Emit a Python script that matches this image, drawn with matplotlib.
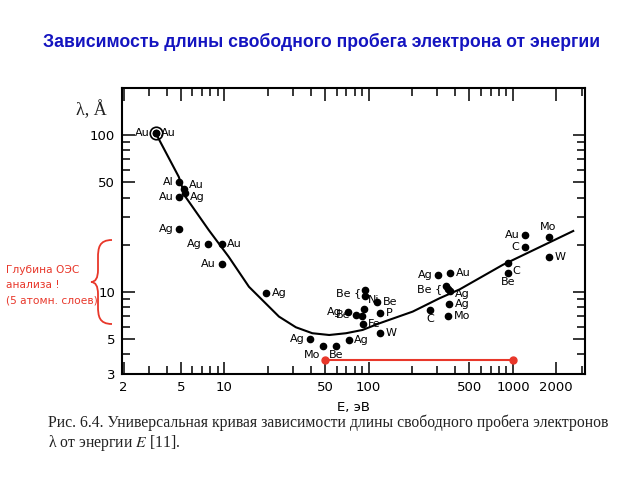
import matplotlib
matplotlib.use("Agg")
import matplotlib.pyplot as plt
from matplotlib.path import Path
from matplotlib.patches import PathPatch
from matplotlib.ticker import FixedLocator, NullFormatter, FixedFormatter

plt.rcParams['font.family'] = ['DejaVu Sans']
plt.rcParams['mathtext.fontset'] = 'stix'

# ---- data ----
title = "Зависимость длины свободного пробега электрона от энергии"
caption1 = "Рис. 6.4. Универсальная кривая зависимости длины свободного пробега электронов"
caption2 = "λ от энергии $E$ [11]."
xlabel = "E, эВ"
ylabel = "λ, Å"
note = "Глубина ОЭС\nанализа !\n(5 атомн. слоев)"

x_ticks = [2, 5, 10, 50, 100, 500, 1000, 2000]
x_ticklabels = ["2", "5", "10", "50", "100", "500", "1000", "2000"]
y_ticks = [3, 5, 10, 50, 100]
y_ticklabels = ["3", "5", "10", "50", "100"]

# universal curve
curve_E = [3.34, 4.83, 5.37, 7.8, 10.7, 14.8, 23.9, 31.3, 40.7, 53.3, 69.7, 90.8,
           119, 202, 310, 428, 851, 2620]
curve_L = [103, 54.2, 40.5, 24.8, 16.8, 10.8, 6.97, 5.96, 5.46, 5.32, 5.46, 5.73,
           6.32, 7.50, 9.12, 10.4, 14.9, 24.5]

# experimental points
pt_E = [3.34, 3.34, 4.83, 5.23, 5.31, 4.83, 4.83, 7.64, 9.55, 9.55, 19.4,
        39.3, 47.9, 59.3, 72.6, 71.5, 81.6, 93, 90, 95, 95, 115, 120, 91, 120,
        267, 302, 368, 345, 355, 365, 360, 354, 1210, 1210, 931, 931, 1766, 1786]
pt_L = [103, 103, 50.4, 45.3, 42.7, 40.1, 25.1, 20.1, 20.1, 15.1, 9.86,
        5.0, 4.53, 4.53, 4.94, 7.43, 7.13, 7.8, 7.0, 10.3, 9.5, 8.7, 7.3, 6.25, 5.5,
        7.67, 12.9, 13.3, 10.9, 10.5, 10.2, 8.37, 7.06, 23.1, 19.5, 15.2, 13.2, 22.3, 16.8]
pt_label = ["Au", "Au", "Al", "Au", "Ag", "Au", "Ag", "Ag", "Au", "Au", "Ag",
            "Ag", "Mo", "Be", "Ag", "Ag", "Be", "Ni", "", "", "", "Be", "P", "Fe", "W",
            "C", "Ag", "Au", "", "", "Ag", "Ag", "Mo", "Au", "C", "C", "Be", "Mo", "W"]
# label placement (styling)
pt_side = ["l", "r", "l", "ru2", "rd2", "l", "l", "l", "r", "l", "r",
           "l", "bl", "b", "r", "l", "l", "ru", "", "", "", "r", "r", "r", "r",
           "b", "l", "r", "", "", "rd3", "r", "r", "l", "l", "rd", "b", "t", "r"]

circled_E = [3.34]
circled_L = [103]

bracket_E = [95, 345]
bracket_L = [9.9, 10.5]
bracket_text = ["Be", "Be"]

red_E = [50, 1000]
red_L = [3.7, 3.7]

# ---- figure ----
fig = plt.figure(figsize=(6.4, 4.8), dpi=100)
ax = fig.add_axes([0.1906, 0.2208, 0.7234, 0.5959])
ax.set_xscale('log')
ax.set_yscale('log')
ax.set_xlim(1.95, 3160)
ax.set_ylim(3, 200)

ax.plot(curve_E, curve_L, color='black', lw=1.5, zorder=2)
ax.plot(pt_E, pt_L, 'o', color='black', ms=4.5, zorder=3)
ax.plot(circled_E, circled_L, 'o', mfc='none', mec='black', ms=9, mew=1.2, zorder=3)
ax.plot(red_E, red_L, '-', color='#e8372a', lw=1.5, zorder=3)
ax.plot(red_E, red_L, 'o', color='#e8372a', ms=5, zorder=4)

offs = {"l": (-4, 0, 'right', 'center'), "r": (4, 0, 'left', 'center'),
        "b": (0, -3, 'center', 'top'), "t": (0, 4, 'center', 'bottom'),
        "bl": (-2, -3, 'right', 'top'), "ru": (3, 3, 'left', 'bottom'),
        "rd": (3, -2, 'left', 'top'),
        "ru2": (4, 3, 'left', 'center'), "rd2": (4, -3, 'left', 'center'),
        "rd3": (4, -2.5, 'left', 'center')}
for e, l, t, s in zip(pt_E, pt_L, pt_label, pt_side):
    if not t:
        continue
    dx, dy, ha, va = offs[s]
    ax.annotate(t, (e, l), xytext=(dx, dy), textcoords='offset points',
                ha=ha, va=va, fontsize=8, color='black', zorder=5)

for e, l, t in zip(bracket_E, bracket_L, bracket_text):
    ax.annotate(t + " {", (e, l), xytext=(-3, 0), textcoords='offset points',
                ha='right', va='center', fontsize=8, color='black')

ax.xaxis.set_major_locator(FixedLocator(x_ticks))
ax.xaxis.set_major_formatter(FixedFormatter(x_ticklabels))
x_minor = [v * m for v in [1, 10, 100, 1000] for m in range(2, 10)]
ax.xaxis.set_minor_locator(FixedLocator(x_minor))
ax.xaxis.set_minor_formatter(NullFormatter())
ax.yaxis.set_major_locator(FixedLocator(y_ticks))
ax.yaxis.set_major_formatter(FixedFormatter(y_ticklabels))
y_minor = [v * m for v in [1, 10, 100] for m in range(2, 10)]
ax.yaxis.set_minor_locator(FixedLocator(y_minor))
ax.yaxis.set_minor_formatter(NullFormatter())

ax.tick_params(which='both', direction='in', top=True, right=True, width=1.1)
ax.tick_params(which='major', length=9, labelsize=9.5, pad=5)
ax.tick_params(which='minor', length=6)
for sp in ax.spines.values():
    sp.set_linewidth(1.5)

ax.set_xlabel(xlabel, fontsize=9.5, labelpad=5)

fig.text(0.503, 0.912, title, ha='center', va='center', fontsize=12.7,
         fontweight='bold', color='#1414c0', family=['Liberation Sans', 'DejaVu Sans'])
fig.text(0.142, 0.771, ylabel, ha='center', va='center', fontsize=13,
         family=['Liberation Serif', 'DejaVu Serif'], color='#222222')
fig.text(0.075, 0.119, caption1, ha='left', va='center', fontsize=11.3,
         family=['Liberation Serif', 'DejaVu Serif'], color='#222222')
fig.text(0.075, 0.077, caption2, ha='left', va='center', fontsize=11.3,
         family=['Liberation Serif', 'DejaVu Serif'], color='#222222')
fig.text(0.009, 0.406, note, ha='left', va='center', fontsize=7.7, color='#e8372a',
         linespacing=1.65)

# red brace
W, H = 640.0, 480.0
def P(x, y):
    return (x / W, 1 - y / H)
verts = [P(112, 240), P(99, 240), P(98, 248), P(98, 258),
         P(98, 270), P(98, 282), P(91, 282),
         P(98, 282), P(98, 294), P(98, 306),
         P(98, 316), P(99, 324), P(112, 324)]
codes = [Path.MOVETO, Path.CURVE4, Path.CURVE4, Path.CURVE4,
         Path.LINETO, Path.CURVE3, Path.CURVE3,
         Path.CURVE3, Path.CURVE3, Path.LINETO,
         Path.CURVE4, Path.CURVE4, Path.CURVE4]
fig.patches.append(PathPatch(Path(verts, codes), transform=fig.transFigure,
                             fill=False, edgecolor='#e8372a', lw=1.3))

fig.savefig("out.png", dpi=100)
